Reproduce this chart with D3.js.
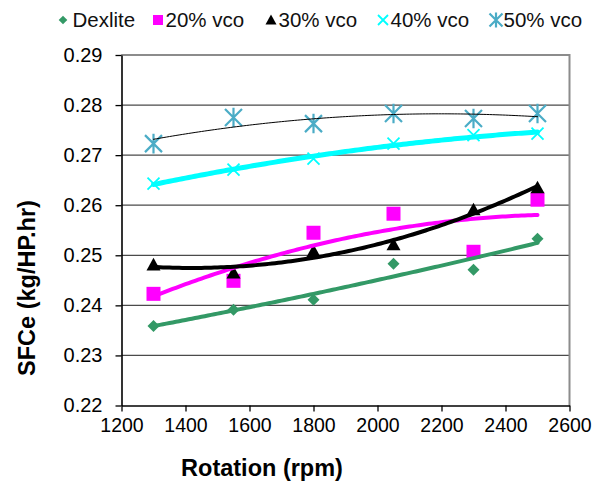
<!DOCTYPE html>
<html>
<head>
<meta charset="utf-8">
<script src="https://cdn.jsdelivr.net/npm/d3@7"></script>
<style>
  body { margin: 0; background: #fff; }
  text { font-family: "Liberation Sans", Arial, sans-serif; }
</style>
</head>
<body>
<div id="chart"></div>
<script>
// rotation values (rpm)
const rpm = [1300, 1550, 1800, 2050, 2300, 2500]

// SFCe (kg/HP.hr)
const dexlite = [0.2359, 0.2391, 0.2411, 0.2483, 0.2471, 0.2533]
const vco20 = [0.2423, 0.2449, 0.2545, 0.2583, 0.2507, 0.2611]
const vco30 = [0.2481, 0.2465, 0.2508, 0.2521, 0.2591, 0.2635]
const vco40 = [0.2643, 0.2671, 0.2693, 0.2723, 0.2740, 0.2743]
const vco50 = [0.2723, 0.2775, 0.2763, 0.2783, 0.2773, 0.2783]

const seriesNames = ["Dexlite", "20% vco", "30% vco", "40% vco", "50% vco"]
const xTicks = [1200, 1400, 1600, 1800, 2000, 2200, 2400, 2600]
const yTicks = [0.22, 0.23, 0.24, 0.25, 0.26, 0.27, 0.28, 0.29]

const width = 597, height = 481
const plot = { left: 121.5, right: 569.5, top: 55, bottom: 405.5 }

const series = [
    { name: seriesNames[0], values: dexlite, marker: "diamond", mColor: "#339966", lColor: "#339966", lWidth: 4 },
    { name: seriesNames[1], values: vco20, marker: "square", mColor: "#ff00ff", lColor: "#ff00ff", lWidth: 4 },
    { name: seriesNames[2], values: vco30, marker: "triangle", mColor: "#000", lColor: "#000", lWidth: 4 },
    { name: seriesNames[3], values: vco40, marker: "x", mColor: "#00ffff", lColor: "#00ffff", lWidth: 5 },
    { name: seriesNames[4], values: vco50, marker: "star", mColor: "#4bacc6", lColor: "#000", lWidth: 1 }
]

const svg = d3.select("#chart").append("svg")
    .attr("width", width)
    .attr("height", height)

const x = d3.scaleLinear().domain([1200, 2600]).range([plot.left, plot.right])
const y = d3.scaleLinear().domain([0.22, 0.29]).range([plot.bottom, plot.top])

// gridlines
svg.append("g")
    .selectAll("line")
    .data(yTicks.slice(1))
    .enter()
    .append("line")
    .attr("x1", plot.left).attr("x2", plot.right)
    .attr("y1", d => y(d)).attr("y2", d => y(d))
    .attr("stroke", "#4a4a4a")
    .attr("stroke-width", 1.3)

// plot area border (top / right are gray)
svg.append("path")
    .attr("d", `M${plot.left},${plot.top}H${plot.right}V${plot.bottom}`)
    .attr("fill", "none")
    .attr("stroke", "#8c8c8c")
    .attr("stroke-width", 2)

// axes
const xAxis = svg.append("g")
    .attr("transform", `translate(0,${plot.bottom})`)
    .call(d3.axisBottom(x).tickValues(xTicks).tickFormat(d3.format("d")).tickSize(6).tickPadding(7).tickSizeOuter(0))
const yAxis = svg.append("g")
    .attr("transform", `translate(${plot.left},0)`)
    .call(d3.axisLeft(y).tickValues(yTicks).tickFormat(d3.format(".2f")).tickSize(6).tickPadding(13).tickSizeOuter(0))

;[xAxis, yAxis].forEach(a => {
    a.select(".domain").attr("stroke", "#000").attr("stroke-width", 1.6)
    a.selectAll(".tick line").attr("stroke", "#000").attr("stroke-width", 1.3)
    a.selectAll(".tick text")
        .attr("fill", "#000")
        .style("font-family", "'Liberation Sans', Arial, sans-serif")
})
xAxis.selectAll(".tick text").style("font-size", "19.5px")
yAxis.selectAll(".tick text").style("font-size", "20px")

// marker shapes
function drawMarker(g, type, color, cx, cy, s) {
    if (type === "diamond") {
        g.append("path")
            .attr("d", `M${cx},${cy - s}L${cx + s},${cy}L${cx},${cy + s}L${cx - s},${cy}Z`)
            .attr("fill", color)
    } else if (type === "square") {
        g.append("rect")
            .attr("x", cx - s).attr("y", cy - s)
            .attr("width", 2 * s).attr("height", 2 * s)
            .attr("fill", color)
    } else if (type === "triangle") {
        g.append("path")
            .attr("d", `M${cx},${cy - s}L${cx + s},${cy + s * 0.8}L${cx - s},${cy + s * 0.8}Z`)
            .attr("fill", color)
    } else if (type === "x") {
        g.append("path")
            .attr("d", `M${cx - s},${cy - s}L${cx + s},${cy + s}M${cx - s},${cy + s}L${cx + s},${cy - s}`)
            .attr("stroke", color).attr("stroke-width", 1.8).attr("fill", "none")
    } else if (type === "star") {
        g.append("path")
            .attr("d", `M${cx - s},${cy - s}L${cx + s},${cy + s}M${cx - s},${cy + s}L${cx + s},${cy - s}M${cx},${cy - s * 1.15}V${cy + s * 1.15}`)
            .attr("stroke", color).attr("stroke-width", 2.2).attr("fill", "none")
    }
}

const markerSize = { diamond: 6, square: 7, triangle: 7, x: 6, star: 8.5 }

// points
const pointsLayer = svg.append("g").attr("class", "layer--points")
series.forEach(s => {
    s.values.forEach((v, i) => {
        drawMarker(pointsLayer, s.marker, s.mColor, x(rpm[i]), y(v), markerSize[s.marker])
    })
})

// 2nd order polynomial trendline (least squares), like the spreadsheet one
function polyFit2(xs, ys) {
    const xm = d3.mean(xs), xsd = 500
    const u = xs.map(v => (v - xm) / xsd)
    let S = [[0, 0, 0], [0, 0, 0], [0, 0, 0]], b = [0, 0, 0]
    u.forEach((t, i) => {
        const p = [1, t, t * t]
        for (let r = 0; r < 3; r++) {
            for (let c = 0; c < 3; c++) S[r][c] += p[r] * p[c]
            b[r] += p[r] * ys[i]
        }
    })
    // gaussian elimination
    for (let k = 0; k < 3; k++) {
        for (let r = k + 1; r < 3; r++) {
            const f = S[r][k] / S[k][k]
            for (let c = k; c < 3; c++) S[r][c] -= f * S[k][c]
            b[r] -= f * b[k]
        }
    }
    const a = [0, 0, 0]
    for (let k = 2; k >= 0; k--) {
        let sum = b[k]
        for (let c = k + 1; c < 3; c++) sum -= S[k][c] * a[c]
        a[k] = sum / S[k][k]
    }
    return xv => {
        const t = (xv - xm) / xsd
        return a[0] + a[1] * t + a[2] * t * t
    }
}

const line = d3.line().x(d => x(d[0])).y(d => y(d[1]))
const trendLayer = svg.append("g").attr("class", "layer--trend")
series.forEach(s => {
    const f = polyFit2(rpm, s.values)
    const xs = d3.range(rpm[0], rpm[rpm.length - 1] + 1, 10)
    trendLayer.append("path")
        .datum(xs.map(v => [v, f(v)]))
        .attr("d", line)
        .attr("fill", "none")
        .attr("stroke", s.lColor)
        .attr("stroke-width", s.lWidth)
        .attr("stroke-linecap", "round")
})

// legend
const legendX = [63, 158, 271, 383, 496]
const legend = svg.append("g").attr("class", "legend")
series.forEach((s, i) => {
    const ms = { diamond: 4.3, square: 5, triangle: 5.5, x: 5, star: 6.5 }[s.marker]
    drawMarker(legend, s.marker, s.mColor, legendX[i], 20, ms)
    legend.append("text")
        .attr("x", legendX[i] + (s.marker === "diamond" ? 9.5 : 7.5))
        .attr("y", 26.5)
        .style("font-size", "20.5px")
        .attr("fill", "#111")
        .text(s.name)
})

// axis titles
svg.append("text")
    .attr("x", 262)
    .attr("y", 476)
    .attr("text-anchor", "middle")
    .style("font-size", "23.5px")
    .style("font-weight", "bold")
    .text("Rotation (rpm)")

svg.append("text")
    .attr("transform", "translate(34.5,288) rotate(-90)")
    .attr("text-anchor", "middle")
    .style("font-size", "23.5px")
    .style("font-weight", "bold")
    .text("SFCe (kg/HP.hr)")
</script>
</body>
</html>
